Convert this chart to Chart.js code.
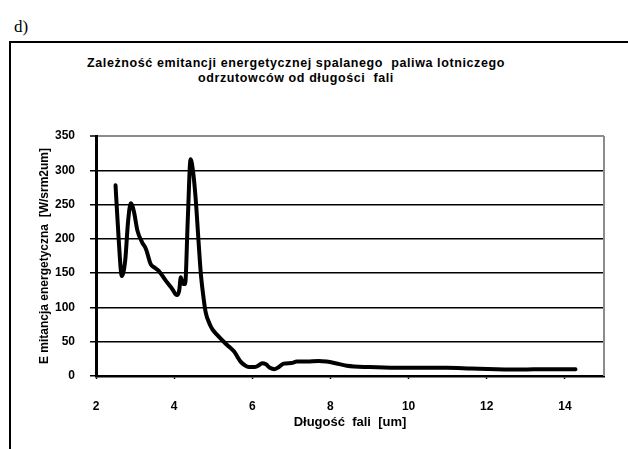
<!DOCTYPE html>
<html>
<head>
<meta charset="utf-8">
<script src="https://cdn.jsdelivr.net/npm/chart.js@4/dist/chart.umd.min.js"></script>
<style>
  html, body { margin: 0; padding: 0; background: #fff; overflow: hidden; }
  body { width: 628px; height: 449px; position: relative; }
  .tag { position: absolute; left: 14px; top: 18px; font: 17px/17px "Liberation Serif", "Times New Roman", serif; color: #000; }
  .frame { position: absolute; left: 9px; top: 41px; width: 700px; height: 500px; border-left: 2px solid #000; border-top: 2px solid #000; }
  .title { position: absolute; left: 0; top: 56px; width: 592px; text-align: center; white-space: pre; letter-spacing: 0.6px;
           font: bold 12.5px/14.5px "Liberation Sans", Arial, sans-serif; color: #000; }
  canvas { position: absolute; left: 0; top: 0; }
</style>
</head>
<body>
<div class="tag">d)</div>
<div class="frame"></div>
<div class="title">Zależność emitancji energetycznej spalanego  paliwa lotniczego
odrzutowców od długości  fali</div>
<canvas id="myChart" width="628" height="449"></canvas>
<script>
// dane
const wavelength = [2.5, 2.58, 2.66, 2.75, 2.82, 2.89, 2.97, 3.06, 3.18, 3.28, 3.4, 3.5, 3.61, 3.8, 3.95, 4.07, 4.13, 4.17, 4.22, 4.28, 4.35, 4.42, 4.48, 4.55, 4.62, 4.68, 4.75, 4.81, 4.9, 4.98, 5.1, 5.27, 5.4, 5.53, 5.62, 5.7, 5.8, 5.91, 6.05, 6.15, 6.25, 6.35, 6.45, 6.57, 6.68, 6.8, 7.0, 7.14, 7.4, 7.7, 7.9, 8.1, 8.42, 9.0, 9.69, 10.3, 10.97, 11.6, 12.25, 12.9, 13.5, 14.27];
const emission = [278, 200, 146, 170, 225, 252, 240, 212, 195, 185, 163, 158, 153, 138, 127, 118, 125, 144, 135, 134, 230, 316, 300, 259, 200, 151, 115, 92, 77, 68, 60, 50, 43, 36, 28, 21, 16, 13, 13, 15, 18.5, 17, 12, 10, 13, 18, 19, 21, 21, 22, 21, 19, 15, 13, 12, 12, 12, 11, 10, 9.5, 10, 10];
const xTicks = [2, 4, 6, 8, 10, 12, 14];
const yTicks = [0, 50, 100, 150, 200, 250, 300, 350];

const points = wavelength.map((x, i) => ({ x: x, y: emission[i] }));
const tickFont = { family: "Liberation Sans, Arial, sans-serif", size: 12, weight: "bold" };

// szara ramka z prawej strony obszaru wykresu
const rightBorder = {
  id: "rightBorder",
  beforeDatasetsDraw(chart) {
    const a = chart.chartArea;
    const c = chart.ctx;
    c.save();
    c.strokeStyle = "#8c8c8c";
    c.lineWidth = 2;
    c.beginPath();
    c.moveTo(a.right, a.top);
    c.lineTo(a.right, a.bottom);
    c.stroke();
    c.restore();
  }
};

new Chart(document.getElementById("myChart"), {
  type: "line",
  data: {
    datasets: [{
      data: points,
      borderColor: "#000",
      borderWidth: 4,
      pointRadius: 0,
      cubicInterpolationMode: "monotone",
      borderCapStyle: "round",
      borderJoinStyle: "round",
      fill: false
    }]
  },
  options: {
    responsive: false,
    animation: false,
    layout: { padding: { top: 136, right: 24, left: 0, bottom: 0 } },
    plugins: { legend: { display: false }, tooltip: { enabled: false }, title: { display: false } },
    scales: {
      x: {
        type: "linear",
        min: 2,
        max: 15,
        afterBuildTicks: (s) => { s.ticks = xTicks.map(v => ({ value: v })); },
        afterFit: (s) => { s.height = 73; },
        ticks: { font: tickFont, color: "#000", padding: 20, maxRotation: 0 },
        grid: { drawOnChartArea: false, tickLength: 3, tickColor: "#000", tickWidth: 1.5 },
        border: { color: "#000", width: 2.5 },
        title: {
          display: true,
          text: "Długość  fali  [um]",
          font: { family: "Liberation Sans, Arial, sans-serif", size: 13, weight: "bold" },
          color: "#000",
          padding: { top: 0, bottom: 19 }
        }
      },
      y: {
        min: 0,
        max: 350,
        afterBuildTicks: (s) => { s.ticks = yTicks.map(v => ({ value: v })); },
        afterFit: (s) => { s.width = 96; },
        ticks: { font: tickFont, color: "#000", padding: 15 },
        grid: {
          color: (ctx) => (ctx.tick && ctx.tick.value === 350 ? "#8c8c8c" : "#000"),
          lineWidth: (ctx) => (ctx.tick && ctx.tick.value === 350 ? 2 : 1.5),
          tickLength: 6,
          tickColor: "#000",
          tickWidth: 1.5
        },
        border: { color: "#000", width: 3 },
        title: {
          display: true,
          text: "E mitancja energetyczna  [W/srm2um]",
          font: tickFont,
          color: "#000",
          padding: { top: 37, bottom: 0 }
        }
      }
    }
  },
  plugins: [rightBorder]
});
</script>
</body>
</html>
